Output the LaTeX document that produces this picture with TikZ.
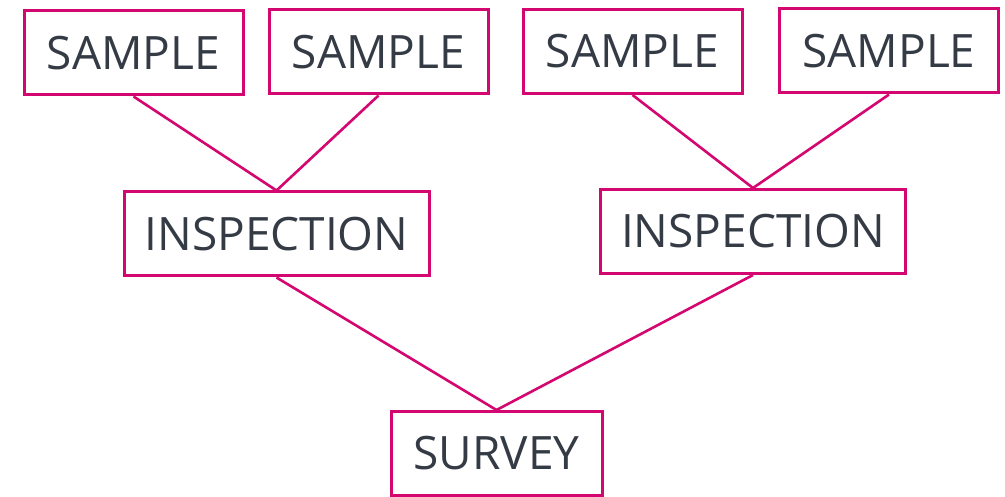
\documentclass[tikz,border=0pt]{standalone}
\usepackage{fontspec}
\setmainfont{Open Sans}
\usepackage{xcolor}
\definecolor{boxpink}{HTML}{D4066F}
\definecolor{textgray}{HTML}{353B45}

\begin{document}
\begin{tikzpicture}[x=1pt, y=-1pt, font=\fontsize{46}{50}\selectfont, text=textgray,
    box/.style={draw=boxpink, line width=3pt, inner sep=0pt, minimum height=84pt},
    link/.style={draw=boxpink, line width=2.6pt}]
    \useasboundingbox (0,0) rectangle (1005,497);
    % top row
    \node[box, minimum width=219pt] (s1) at (133.5, 53) {SAMPLE};
    \node[box, minimum width=219pt] (s2) at (378.5, 52) {SAMPLE};
    \node[box, minimum width=219pt] (s3) at (632.5, 51.5) {SAMPLE};
    \node[box, minimum width=219pt] (s4) at (889, 51) {SAMPLE};
    % middle row
    \node[box, minimum width=305pt] (i1) at (276.5, 234) {INSPECTION};
    \node[box, minimum width=305pt] (i2) at (753, 231.5) {INSPECTION};
    % bottom
    \node[box, minimum width=211pt] (sv) at (496.5, 453.5) {SURVEY};
    \foreach \a/\b in {s1/i1, s2/i1, s3/i2, s4/i2, i1/sv, i2/sv}
      \draw[link] (\a.south) -- (\b.north);
\end{tikzpicture}
\end{document}
